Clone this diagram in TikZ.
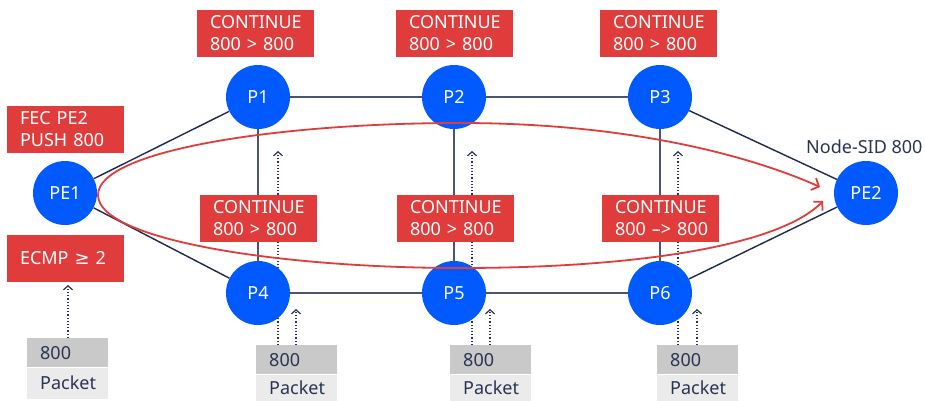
\documentclass[tikz,border=0pt]{standalone}
\usepackage{fontspec}
\setmainfont{Noto Sans}
\newfontfamily\symfont{DejaVu Sans}
\usetikzlibrary{arrows.meta,positioning,backgrounds}
\definecolor{nodeblue}{HTML}{005AFF}
\definecolor{actred}{HTML}{E03C3C}
\definecolor{wire}{HTML}{1E2947}
\definecolor{wiregray}{HTML}{4B5573}
\definecolor{ink}{HTML}{283452}
\definecolor{lblgray}{HTML}{C9C9C9}
\definecolor{paygray}{HTML}{EBEBEB}

\begin{document}
\begin{tikzpicture}[x=1pt,y=-1pt, every node/.style={font=\fontsize{18}{22}\selectfont},
  router/.style={circle,fill=nodeblue,text=white,minimum size=64pt,inner sep=0pt},
  action/.style={fill=actred,text=white,text width=91pt,inner xsep=13pt,
  minimum height=47pt,align=left}, hdr/.style={fill=lblgray,text=ink,text
  width=55pt,inner xsep=13pt,inner ysep=0pt,minimum height=29pt,align=left,anchor=north west},
  payload/.style={hdr,fill=paygray,minimum height=31pt,anchor=north},
  link/.style={draw=wire,line width=1.4pt}, mesh/.style={link,draw=wiregray},
  probe/.style={draw=ink,dotted,line width=1.2pt,-{Straight Barb[length=4pt,width=9pt]}},
  lsp/.style={draw=actred,line width=1.8pt,{Straight Barb[length=6pt,width=13pt]}-{Straight
  Barb[length=6pt,width=13pt]}}]
\useasboundingbox (0,0) rectangle (925,400);
% routers
\node[router] (pe1) at (65,193) {PE1}; \node[router] (p1) at (258,97) {P1};
\node[router] (p2) at (454,97) {P2}; \node[router] (p3) at (660,97) {P3};
\node[router] (p4) at (258,293) {P4}; \node[router] (p5) at (454,293) {P5};
\node[router] (p6) at (660,293) {P6}; \node[router] (pe2) at (866,193) {PE2};
\node[text=ink,anchor=west,inner sep=0pt] (sid) at (806,147) {Node-SID 800};
% labelled packets entering the network
\node[hdr] (hd0) at (27,338) {800}; \node[payload,below=0pt of hd0] (pl0) {Packet};
\node[hdr] (hd4) at (256,345) {800}; \node[payload,minimum height=27pt,below=0pt of hd4] (pl4) {Packet};
\node[hdr] (hd5) at (450,345) {800}; \node[payload,minimum height=27pt,below=0pt of hd5] (pl5) {Packet};
\node[hdr] (hd6) at (657,345) {800}; \node[payload,minimum height=27pt,below=0pt of hd6] (pl6) {Packet};
\coordinate (q0) at (68,285); \coordinate (q4a) at (278,151); \coordinate (q4b) at (296,309);
\coordinate (q5a) at (472,151); \coordinate (q5b) at (490,309);
\coordinate (q6a) at (678,151); \coordinate (q6b) at (697,309);
\begin{scope}[on background layer]
  \draw[link] (pe1) -- (p1); \draw[link] (pe1) -- (p4); \draw[link] (p3) -- (pe2);
  \draw[link] (p6) -- (pe2); \draw[mesh] (p1) -- (p2) -- (p3); \draw[mesh] (p4) --
  (p5) -- (p6); \draw[mesh] (p1) -- (p4); \draw[mesh] (p2) -- (p5); \draw[mesh]
  (p3) -- (p6);
  \draw[probe] (hd0.north -| q0) -- (q0);
  \draw[probe] ([xshift=22pt]hd4.north west) -- (q4a); \draw[probe]
  ([xshift=40pt]hd4.north west) -- (q4b); \draw[probe] ([xshift=22pt]hd5.north
  west) -- (q5a); \draw[probe] ([xshift=40pt]hd5.north west) -- (q5b);
  \draw[probe] ([xshift=21pt]hd6.north west) -- (q6a); \draw[probe]
  ([xshift=40pt]hd6.north west) -- (q6b);
\end{scope}
% label switched path towards PE2
\coordinate (lsptop) at (820,187); \coordinate (lspbot) at (823,201);
\draw[lsp] (lsptop) .. controls (760,160) and (640,123) .. (460,123) .. controls
  (280,123) and (98,150) .. (98,195) .. controls (98,240) and (280,268) ..
  (460,268) .. controls (640,268) and (780,245) .. (lspbot);
% forwarding actions
\node[action] (fec) at (65.5,129.5) {FEC PE2\\PUSH 800};
\node[action] (ecmp) at (65.5,258) {ECMP {\symfont ≥} 2};
\node[action] (a1) at (255.5,33.5) {CONTINUE\\800 > 800};
\node[action] (a2) at (454.5,33.5) {CONTINUE\\800 > 800};
\node[action] (a3) at (658.5,33.5) {CONTINUE\\800 > 800};
\node[action] (a4) at (258.5,218) {CONTINUE\\800 > 800};
\node[action] (a5) at (455.5,218) {CONTINUE\\800 > 800};
\node[action] (a6) at (660.5,218) {CONTINUE\\\mbox{800 –> 800}};
\end{tikzpicture}
\end{document}
